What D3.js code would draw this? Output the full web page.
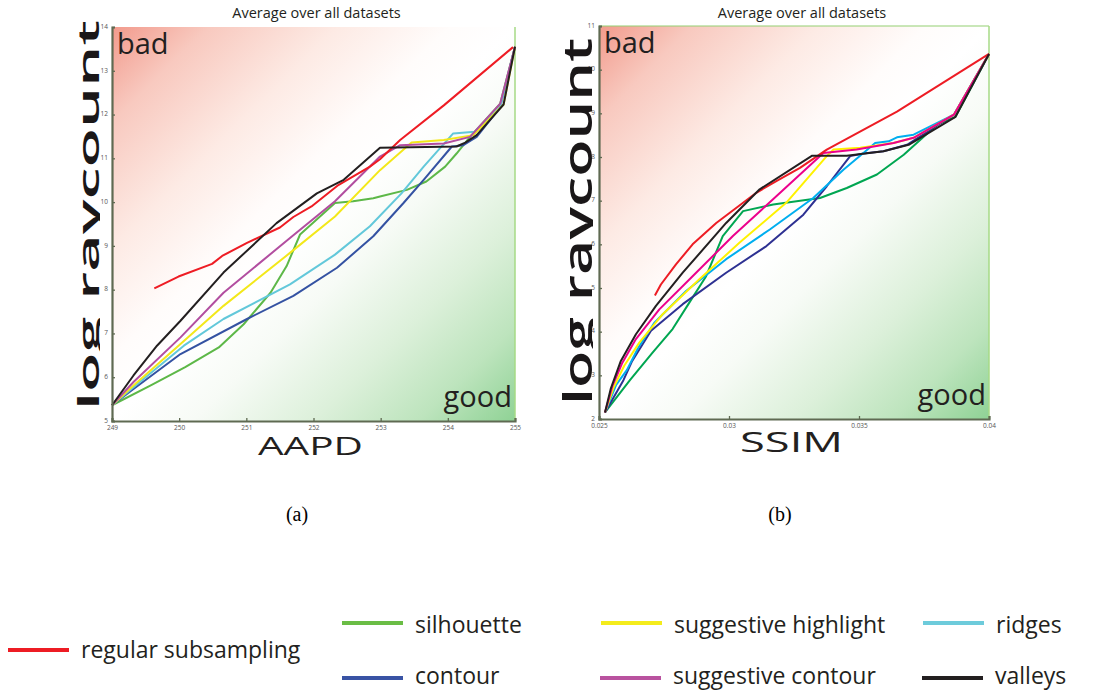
<!DOCTYPE html>
<html>
<head>
<meta charset="utf-8">
<script src="https://cdn.jsdelivr.net/npm/d3@7"></script>
<style>
  html, body { margin: 0; padding: 0; background: #fff; }
  svg { display: block; }
</style>
</head>
<body>
<svg id="chart" width="1107" height="691"></svg>
<script>
// ---------- DATA ----------
const seriesNames = ["silhouette", "contour", "ridges", "suggestive highlight", "suggestive contour", "regular subsampling", "valleys"];
const colorsA = ["#5db848", "#3452a2", "#62c8da", "#f3e81a", "#b24ea0", "#ee1c24", "#231f20"];
const colorsB = ["#00a651", "#2e3192", "#00aeef", "#fff200", "#ec008c", "#ed1c24", "#231f20"];
const legendColors = ["#6abd45", "#3953a4", "#6dcbdb", "#f4ec1c", "#b9529f", "#ed1c24", "#231f20"];

const aapdTicks = [249, 250, 251, 252, 253, 254, 255];
const aapdYTicks = [5, 6, 7, 8, 9, 10, 11, 12, 13, 14];
const ssimTicks = [0.025, 0.03, 0.035, 0.04];
const ssimTickLabels = ["0.025", "0.03", "0.035", "0.04"];
const ssimYTicks = [2, 3, 4, 5, 6, 7, 8, 9, 10, 11];

// AAPD chart (a)
const aapdSilhouette = [[249,5.36],[249.57,5.81],[250.09,6.23],[250.59,6.68],[250.96,7.21],[251.36,7.93],[251.60,8.54],[251.80,9.26],[252.32,9.98],[252.59,10.02],[252.89,10.09],[252.99,10.13],[253.39,10.28],[253.68,10.47],[253.96,10.81],[254.13,11.11],[254.33,11.49],[254.78,12.25],[255,13.55]];
const aapdContour = [[249,5.36],[249.32,5.73],[250.02,6.53],[251.01,7.33],[251.70,7.86],[252.35,8.50],[252.89,9.22],[253.34,9.98],[253.64,10.51],[254.06,11.27],[254.23,11.30],[254.43,11.49],[254.78,12.17],[255,13.55]];
const aapdRidges = [[249,5.36],[249.32,5.77],[250.07,6.72],[250.66,7.33],[251.65,8.12],[252.32,8.80],[252.84,9.45],[253.31,10.20],[253.64,10.81],[254.08,11.57],[254.40,11.61],[254.45,11.68],[254.78,12.17],[255,13.55]];
const aapdSugHighlight = [[249,5.36],[249.32,5.81],[250.02,6.76],[250.66,7.63],[251.65,8.84],[252.32,9.67],[252.99,10.73],[253.46,11.36],[253.94,11.42],[254.38,11.53],[254.83,12.23],[255,13.55]];
const aapdSugContour = [[249,5.36],[249.32,5.89],[250.02,6.91],[250.66,7.93],[251.65,9.18],[252.32,10.02],[252.99,11.04],[253.29,11.30],[253.94,11.34],[254.33,11.49],[254.78,12.25],[255,13.55]];
const aapdRegular = [[249.63,8.03],[249.99,8.30],[250.49,8.59],[250.64,8.77],[251.01,9.07],[251.50,9.42],[251.70,9.66],[251.97,9.90],[252.37,10.39],[252.84,10.81],[252.99,10.98],[253.29,11.42],[253.94,12.21],[254.97,13.54]];
const aapdValleys = [[249,5.36],[249.32,6.04],[249.67,6.72],[250.02,7.29],[250.66,8.39],[251.45,9.52],[252.05,10.20],[252.45,10.51],[252.99,11.24],[254.13,11.27],[254.26,11.36],[254.43,11.53],[254.83,12.23],[255,13.55]];

// SSIM chart (b)
const ssimSilhouette = [[0.02523,2.15],[0.02619,2.89],[0.02706,3.52],[0.02783,4.06],[0.02848,4.67],[0.02912,5.27],[0.02976,6.19],[0.03054,6.76],[0.0317,6.91],[0.0335,7.06],[0.03453,7.29],[0.03569,7.60],[0.03672,8.05],[0.038,8.74],[0.03871,8.92],[0.04,10.36]];
const ssimContour = [[0.02523,2.15],[0.02594,2.89],[0.02626,3.31],[0.027,4.02],[0.02822,4.63],[0.02989,5.35],[0.03144,5.96],[0.03286,6.68],[0.03376,7.33],[0.03466,8.02],[0.03517,8.08],[0.03594,8.13],[0.03685,8.28],[0.03865,8.97],[0.04,10.36]];
const ssimRidges = [[0.02523,2.15],[0.02566,2.78],[0.02607,3.12],[0.02650,3.62],[0.02712,4.20],[0.02835,4.93],[0.02989,5.66],[0.03157,6.34],[0.03324,7.06],[0.0344,7.71],[0.03517,8.09],[0.03562,8.32],[0.03614,8.36],[0.03646,8.45],[0.0371,8.51],[0.03865,8.97],[0.04,10.36]];
const ssimSugHighlight = [[0.02523,2.15],[0.02556,2.72],[0.02597,3.22],[0.02655,3.75],[0.02745,4.40],[0.02886,5.20],[0.03041,6.04],[0.0322,6.95],[0.03376,8.02],[0.03402,8.17],[0.03505,8.21],[0.03633,8.32],[0.0371,8.44],[0.03865,8.97],[0.04,10.36]];
const ssimSugContour = [[0.02523,2.15],[0.02552,2.76],[0.0259,3.29],[0.02642,3.83],[0.02732,4.51],[0.0286,5.27],[0.03015,6.19],[0.03182,7.10],[0.03363,8.09],[0.03491,8.17],[0.03633,8.32],[0.0371,8.44],[0.03865,8.97],[0.04,10.36]];
const ssimRegular = [[0.02715,4.83],[0.02738,5.08],[0.02796,5.54],[0.02860,6.00],[0.02951,6.49],[0.03105,7.18],[0.03182,7.45],[0.03273,7.75],[0.03376,8.17],[0.03646,9.04],[0.04,10.36]];
const ssimValleys = [[0.02523,2.15],[0.02545,2.69],[0.02584,3.33],[0.02642,3.94],[0.02719,4.59],[0.02822,5.35],[0.02989,6.49],[0.03118,7.26],[0.03320,8.03],[0.03453,8.03],[0.03594,8.13],[0.03691,8.28],[0.03871,8.92],[0.04,10.36]];

const aapdSeries = [aapdSilhouette, aapdContour, aapdRidges, aapdSugHighlight, aapdSugContour, aapdRegular, aapdValleys];
const ssimSeries = [ssimSilhouette, ssimContour, ssimRidges, ssimSugHighlight, ssimSugContour, ssimRegular, ssimValleys];

// ---------- DRAWING ----------
const svg = d3.select("#chart");
const FONT = "'Open Sans', 'DejaVu Sans', sans-serif";
const defs = svg.append("defs");
const grad = defs.append("linearGradient").attr("id", "bg")
  .attr("x1", 0).attr("y1", 0).attr("x2", 1).attr("y2", 1);
[[0, "#f29a8c"], [0.12, "#f8c9bf"], [0.28, "#fdeae4"], [0.42, "#fffcfb"], [0.5, "#ffffff"],
 [0.6, "#f7fbf6"], [0.75, "#dcf0da"], [0.88, "#bde4bd"], [1, "#8fd295"]].forEach(s =>
  grad.append("stop").attr("offset", s[0]).attr("stop-color", s[1]));

function drawPanel(cfg) {
  const g = svg.append("g");
  const x = d3.scaleLinear().domain(cfg.xDomain).range([cfg.left, cfg.right]);
  const y = d3.scaleLinear().domain(cfg.yDomain).range([cfg.bottom, cfg.top]);

  g.append("text").attr("x", (cfg.left + cfg.right) / 2 + cfg.titleDx).attr("y", 18)
    .attr("text-anchor", "middle").attr("font-family", FONT).attr("font-size", 14.5)
    .attr("fill", "#231f20").text("Average over all datasets");

  g.append("rect").attr("x", cfg.left).attr("y", cfg.top)
    .attr("width", cfg.right - cfg.left).attr("height", cfg.bottom - cfg.top)
    .attr("fill", "url(#bg)");
  if (cfg.topBorder) {
    g.append("line").attr("x1", cfg.left).attr("x2", cfg.right).attr("y1", cfg.top).attr("y2", cfg.top)
      .attr("stroke", "#93cf72").attr("stroke-width", 1.2);
  }
  g.append("line").attr("x1", cfg.right).attr("x2", cfg.right).attr("y1", cfg.top).attr("y2", cfg.bottom)
    .attr("stroke", "#a6da86").attr("stroke-width", 1.5);

  g.append("text").attr("x", cfg.left + 5).attr("y", cfg.top + 27)
    .attr("font-family", FONT).attr("font-size", 29).attr("fill", "#231f20").text("bad");
  g.append("text").attr("x", cfg.right - 3).attr("y", cfg.bottom - 14)
    .attr("text-anchor", "end").attr("font-family", FONT).attr("font-size", 29)
    .attr("fill", "#231f20").text("good");

  const line = d3.line().x(d => x(d[0])).y(d => y(d[1]));
  cfg.series.forEach((s, i) => {
    g.append("path").datum(s).attr("d", line).attr("fill", "none")
      .attr("stroke", cfg.colors[i]).attr("stroke-width", 2)
      .attr("stroke-linejoin", "round");
  });

  const axisColor = "#5f6a52";
  const xAxis = d3.axisBottom(x).tickValues(cfg.xTicks).tickSize(-3).tickPadding(4)
    .tickFormat((d, i) => cfg.xTickLabels[i]);
  const gx = g.append("g").attr("transform", `translate(0,${cfg.bottom})`).call(xAxis);
  gx.select(".domain").attr("stroke", axisColor).attr("stroke-width", 2.2);
  gx.selectAll(".tick line").attr("stroke", axisColor).attr("stroke-width", 1.3);
  gx.selectAll(".tick text").attr("font-family", FONT).attr("font-size", 6.5).attr("fill", "#555");

  const yAxis = d3.axisLeft(y).tickValues(cfg.yTicks).tickSize(-3).tickPadding(4)
    .tickFormat(d3.format("d"));
  const gy = g.append("g").attr("transform", `translate(${cfg.left},0)`).call(yAxis);
  gy.select(".domain").attr("stroke", axisColor).attr("stroke-width", 2.2);
  gy.selectAll(".tick line").attr("stroke", axisColor).attr("stroke-width", 1.3);
  gy.selectAll(".tick text").attr("font-family", FONT).attr("font-size", 6.5).attr("fill", "#555")
    .attr("dy", "0.2em");

  g.append("text").attr("x", cfg.xtX).attr("y", cfg.xtY)
    .attr("font-family", FONT).attr("font-size", cfg.xtSize).attr("fill", "#231f20")
    .attr("textLength", cfg.xtLen).attr("lengthAdjust", "spacingAndGlyphs").text(cfg.xTitle);

  const clipId = "clip" + cfg.id;
  defs.append("clipPath").attr("id", clipId).append("rect")
    .attr("x", 0).attr("y", 0).attr("width", cfg.ytX + 1).attr("height", 691);
  g.append("g").attr("clip-path", `url(#${clipId})`)
    .append("text")
    .attr("transform", `translate(${cfg.ytX},${cfg.ytY}) rotate(-90)`)
    .attr("font-family", FONT).attr("font-weight", 600).attr("font-size", cfg.ytSize).attr("fill", "#1a1718")
    .attr("textLength", cfg.ytLen).attr("lengthAdjust", "spacingAndGlyphs")
    .text("log raycount");

  g.append("text").attr("x", cfg.capX).attr("y", 521).attr("text-anchor", "middle")
    .attr("font-family", "'Liberation Serif', 'DejaVu Serif', serif").attr("font-size", 20)
    .attr("fill", "#000").text(cfg.caption);
}

drawPanel({
  id: "a", left: 112, right: 515, top: 27, bottom: 421,
  xDomain: [249, 255], yDomain: [5, 14],
  xTicks: aapdTicks, xTickLabels: aapdTicks.map(String), yTicks: aapdYTicks,
  series: aapdSeries, colors: colorsA, topBorder: false, titleDx: 3,
  xTitle: "AAPD", xtX: 258, xtY: 455, xtSize: 25, xtLen: 105,
  ytX: 99, ytY: 410, ytSize: 29, ytLen: 390,
  caption: "(a)", capX: 297
});

drawPanel({
  id: "b", left: 599, right: 989, top: 26, bottom: 419,
  xDomain: [0.025, 0.04], yDomain: [2, 11],
  xTicks: ssimTicks, xTickLabels: ssimTickLabels, yTicks: ssimYTicks,
  series: ssimSeries, colors: colorsB, topBorder: true, titleDx: 8,
  xTitle: "SSIM", xtX: 740, xtY: 452, xtSize: 28, xtLen: 103,
  ytX: 592, ytY: 405, ytSize: 40, ytLen: 367,
  caption: "(b)", capX: 780
});

// ---------- LEGEND ----------
const legendPos = [
  { name: "silhouette", x: 342, y: 623, by: 633 },
  { name: "contour", x: 342, y: 678, by: 684 },
  { name: "ridges", x: 923, y: 623, by: 633 },
  { name: "suggestive highlight", x: 601, y: 623, by: 633 },
  { name: "suggestive contour", x: 600, y: 678, by: 684 },
  { name: "regular subsampling", x: 8, y: 650, by: 658 },
  { name: "valleys", x: 922, y: 678, by: 684 }
];
const lg = svg.append("g");
seriesNames.forEach((name, i) => {
  const p = legendPos.find(d => d.name === name);
  lg.append("line").attr("x1", p.x).attr("x2", p.x + 61).attr("y1", p.y).attr("y2", p.y)
    .attr("stroke", legendColors[i]).attr("stroke-width", 4);
  lg.append("text").attr("x", p.x + 73).attr("y", p.by)
    .attr("font-family", FONT).attr("font-size", 23).attr("fill", "#231f20").text(name);
});
</script>
</body>
</html>
